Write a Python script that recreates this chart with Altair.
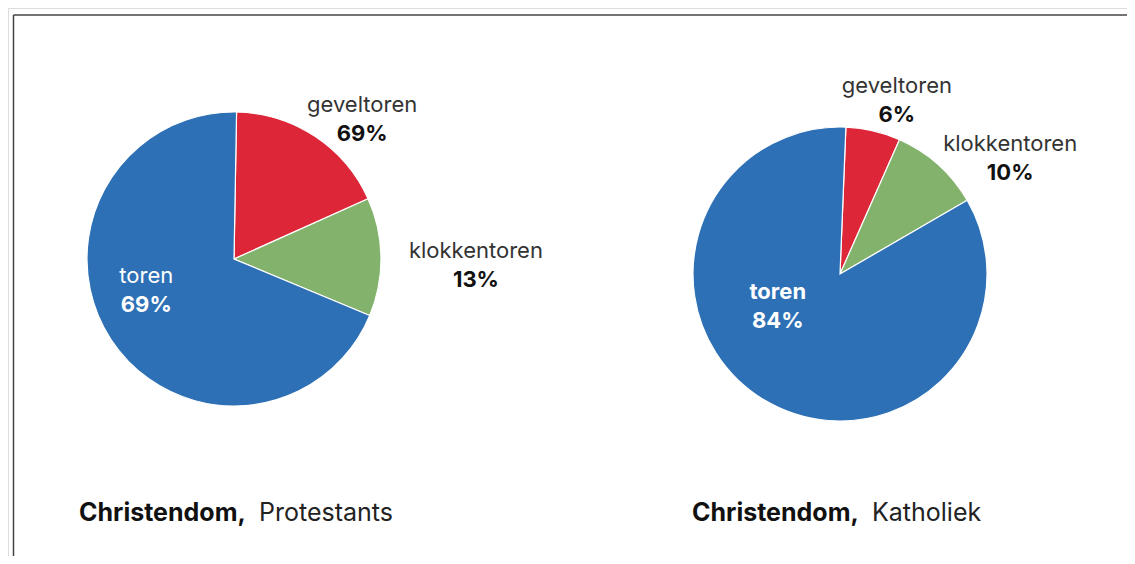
import math
import altair as alt
import pandas as pd

# ---- data ----
categories = ["geveltoren", "klokkentoren", "toren"]
protestants_values = [18, 13, 69]
protestants_labels = ["69%", "13%", "69%"]   # as printed in the source
katholiek_values = [6, 10, 84]
katholiek_labels = ["6%", "10%", "84%"]
colors = ["#dd2739", "#83b26c", "#2e70b6"]

# ---- layout (pixels / degrees) ----
W, H = 1119, 548
R = 147
CENTER_L = (226, 251)
CENTER_R = (832, 266)
START_L = 1.0
START_R = 2.3
# label anchors: (angle from top, clockwise, degrees; distance from centre, px)
LABEL_L = {"geveltoren": (42.4, 190), "klokkentoren": (91.4, 242), "toren": (250.6, 93)}
LABEL_R = {"geveltoren": (18.1, 183), "klokkentoren": (55.7, 206), "toren": (242.7, 70)}
FONT = "Inter"
LABEL_SIZE = 22
TITLE_SIZE = 25


def pie_df(values, labels, lpos):
    return pd.DataFrame({
        "cat": categories,
        "value": values,
        "pct": labels,
        "idx": list(range(len(categories))),
        "la": [math.radians(lpos[c][0]) for c in categories],
        "lr": [lpos[c][1] for c in categories],
        "inside": [c == "toren" for c in categories],
    })


color_scale = alt.Scale(domain=categories, range=colors)


def pie(df, center, start):
    s = math.radians(start)
    return alt.Chart(df).mark_arc(radius=R, stroke="white", strokeWidth=1.2).encode(
        theta=alt.Theta("value:Q", stack=True, scale=alt.Scale(range=[s, s + 2 * math.pi])),
        order=alt.Order("idx:Q"),
        color=alt.Color("cat:N", scale=color_scale, legend=None),
        x=alt.value(center[0]),
        y=alt.value(center[1]),
    )


def labels(df, center, inner_bold_name):
    outside = df[~df["inside"]]
    inside = df[df["inside"]]
    common = dict(
        theta=alt.Theta("la:Q", scale=None),
        radius=alt.Radius("lr:Q", scale=None),
        x=alt.value(center[0]),
        y=alt.value(center[1]),
    )
    txt = dict(font=FONT, fontSize=LABEL_SIZE, align="center", baseline="middle")
    return [
        alt.Chart(outside).mark_text(color="#333333", dy=-14, **txt).encode(text="cat:N", **common),
        alt.Chart(outside).mark_text(fontWeight="bold", color="#111111", dy=15, **txt)
        .encode(text="pct:N", **common),
        alt.Chart(inside).mark_text(fontWeight="bold" if inner_bold_name else "normal",
                                    color="white", dy=-14, **txt).encode(text="cat:N", **common),
        alt.Chart(inside).mark_text(fontWeight="bold", color="white", dy=15, **txt)
        .encode(text="pct:N", **common),
    ]


df_l = pie_df(protestants_values, protestants_labels, LABEL_L)
df_r = pie_df(katholiek_values, katholiek_labels, LABEL_R)

anchor = pd.DataFrame({"a": [0]})


def title(bold, regular, x_bold, x_reg, y):
    t1 = alt.Chart(anchor).mark_text(font=FONT, fontSize=TITLE_SIZE, fontWeight="bold", color="#111111",
                                      align="left", baseline="alphabetic", text=bold).encode(
        x=alt.value(x_bold), y=alt.value(y))
    t2 = alt.Chart(anchor).mark_text(font=FONT, fontSize=TITLE_SIZE, color="#222222",
                                      align="left", baseline="alphabetic", text=regular).encode(
        x=alt.value(x_reg), y=alt.value(y))
    return [t1, t2]


border_v = alt.Chart(anchor).mark_rule(color="#444444", strokeWidth=1.5).encode(
    x=alt.value(5.5), y=alt.value(7), y2=alt.value(H))
border_h = alt.Chart(anchor).mark_rule(color="#444444", strokeWidth=1.5).encode(
    x=alt.value(5.5), x2=alt.value(W), y=alt.value(7))

layers = [border_v, border_h,
          pie(df_l, CENTER_L, START_L), pie(df_r, CENTER_R, START_R)]
layers += labels(df_l, CENTER_L, False)
layers += labels(df_r, CENTER_R, True)
layers += title("Christendom,", "Protestants", 71, 251, 513)
layers += title("Christendom,", "Katholiek", 684, 864, 513)

chart = alt.layer(*layers).resolve_scale(theta="independent").properties(
    width=W, height=H, autosize=alt.AutoSizeParams(type="none"), padding=0
).configure_view(stroke=None).configure(background="white")

chart.save("out.html", embed_options={"renderer": "svg", "actions": False})
